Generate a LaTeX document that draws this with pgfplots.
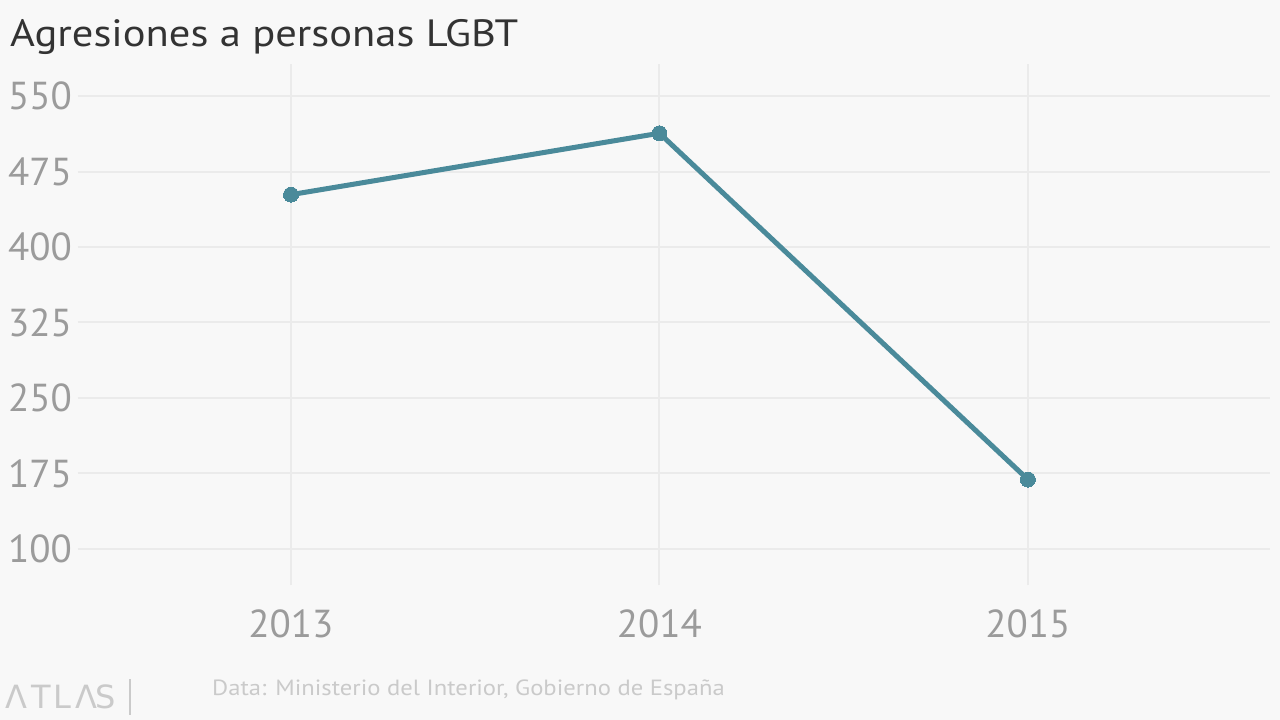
\documentclass[border=0pt]{standalone}
\usepackage{pgfplots}
\pgfplotsset{compat=1.18}
\usepackage{fontspec}
\setmainfont{PT Sans}
\newfontfamily\widefont[FakeStretch=1.12]{PT Sans}
\newfontfamily\logofont{DejaVu Sans}
\definecolor{bg}{HTML}{F8F8F8}
\definecolor{gridc}{HTML}{EBEBEB}
\definecolor{tickc}{HTML}{9B9B9B}
\definecolor{linec}{HTML}{4A8A9A}
\definecolor{titlec}{HTML}{333333}
\definecolor{srcc}{HTML}{CACACA}
\begin{document}
\begin{tikzpicture}[x=1pt,y=1pt]
\fill[bg] (0,0) rectangle (1280,-720);
\begin{axis}[
  at={(78pt,-585pt)}, anchor=south west,
  width=1192pt, height=521pt, scale only axis,
  xmin=2012.422, xmax=2015.657, ymin=64.2, ymax=581.8,
  xtick={2013,2014,2015}, xticklabels={2013,2014,2015},
  ytick={100,175,250,325,400,475,550},
  yticklabels={100,175,250,325,400,475,550},
  axis line style={draw=none}, major tick length=0pt,
  grid=major, grid style={draw=gridc, line width=2pt},
  xticklabel style={anchor=north, inner sep=0pt, yshift=-25pt, text=tickc, font=\fontsize{39}{44}\selectfont},
  yticklabel style={anchor=west, inner sep=0pt, xshift=-70pt, text=tickc, font=\fontsize{39}{44}\selectfont},
  clip=false,
]
\addplot[color=linec, line width=5pt, mark=*, mark size=7.5pt, mark options={fill=linec, draw=linec, line width=0pt}] coordinates {
  (2013,452) (2014,513) (2015,169)
};
\end{axis}
\node[anchor=base west, font=\widefont\fontsize{38}{44}\selectfont, text=titlec, inner sep=0pt] at (10,-46) {Agresiones a personas LGBT};
\node[anchor=base west, font=\widefont\fontsize{22}{26}\selectfont, text=srcc, inner sep=0pt] at (212,-695) {Data: Ministerio del Interior, Gobierno de España};
\draw[srcc, line width=1.5pt] (130,-679) -- (130,-715);
\foreach \x/\l in {16/Λ,41/T,62/L,86/Λ,106/S}
  \node[anchor=base, font=\logofont\fontsize{32}{38}\selectfont, text=srcc, inner sep=0pt] at (\x,-708) {\l};
\end{tikzpicture}
\end{document}
